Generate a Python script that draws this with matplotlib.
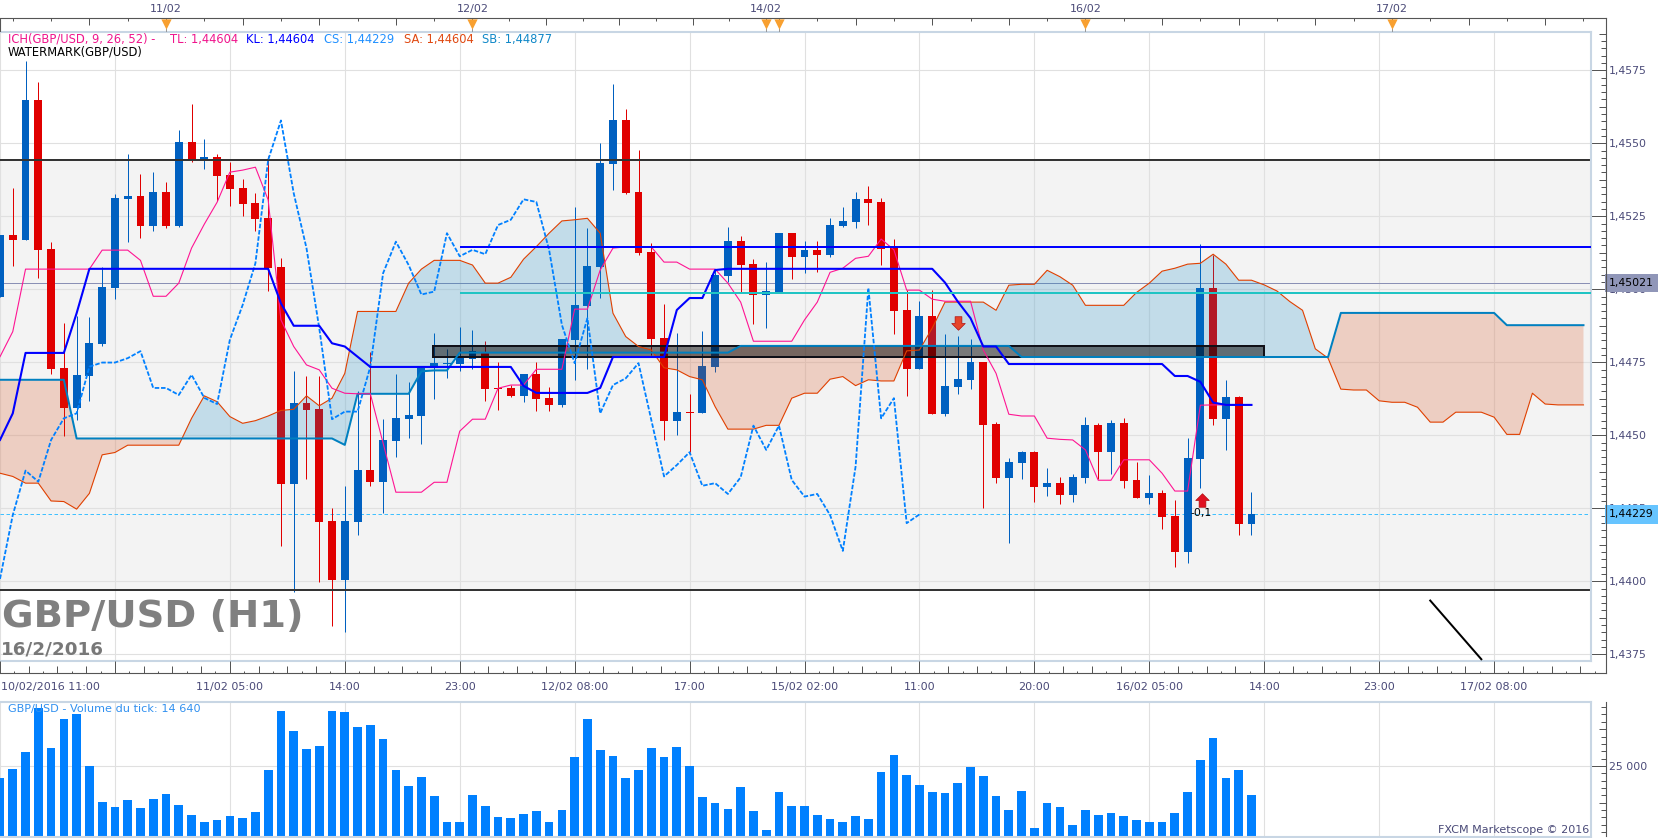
import matplotlib
matplotlib.use("Agg")
import matplotlib.pyplot as plt
import numpy as np
from matplotlib.lines import Line2D
from matplotlib.patches import Rectangle
from matplotlib.path import Path

W, H = 1663, 838
CANDLE_PX = 12.77

# --------------------------------------------
# Data
# --------------------------------------------
opens = [1.44975, 1.45186, 1.45167, 1.45649, 1.45138, 1.44731, 1.44594, 1.44703, 1.44813, 1.45005,
         1.45309, 1.45320, 1.45217, 1.45333, 1.45217, 1.45505, 1.45446, 1.45453, 1.45392, 1.45347,
         1.45296, 1.45244, 1.45077, 1.44333, 1.44611, 1.44590, 1.44207, 1.44005, 1.44203, 1.44381,
         1.44340, 1.44481, 1.44556, 1.44566, 1.44730, 1.44744, 1.44744, 1.44761, 1.44781, 1.44662,
         1.44662, 1.44635, 1.44710, 1.44628, 1.44604, 1.44827, 1.44943, 1.45077, 1.45429, 1.45580,
         1.45333, 1.45128, 1.44833, 1.44549, 1.44580, 1.44577, 1.44734, 1.45046, 1.45166, 1.45087,
         1.44981, 1.44991, 1.45193, 1.45111, 1.45135, 1.45118, 1.45217, 1.45231, 1.45309, 1.45299,
         1.45142, 1.44929, 1.44727, 1.44909, 1.44573, 1.44666, 1.44690, 1.44751, 1.44539, 1.44354,
         1.44405, 1.44443, 1.44323, 1.44337, 1.44296, 1.44354, 1.44535, 1.44443, 1.44542, 1.44347,
         1.44285, 1.44303, 1.44224, 1.44101, 1.44419, 1.45005, 1.44556, 1.44631, 1.44196]
highs = [1.45186, 1.45348, 1.45782, 1.45710, 1.45162, 1.44885, 1.44907, 1.44905, 1.45077, 1.45327,
         1.45464, 1.45395, 1.45402, 1.45368, 1.45546, 1.45635, 1.45515, 1.45464, 1.45436, 1.45378,
         1.45330, 1.45457, 1.45107, 1.44720, 1.44703, 1.44703, 1.44251, 1.44327, 1.44650, 1.44785,
         1.44555, 1.44710, 1.44683, 1.44735, 1.44851, 1.44796, 1.44871, 1.44861, 1.44823, 1.44750,
         1.44672, 1.44710, 1.44750, 1.44667, 1.44830, 1.45282, 1.45210, 1.45501, 1.45703, 1.45618,
         1.45477, 1.45159, 1.44950, 1.44851, 1.44642, 1.44857, 1.45066, 1.45214, 1.45183, 1.45104,
         1.45094, 1.45193, 1.45193, 1.45166, 1.45166, 1.45244, 1.45282, 1.45333, 1.45354, 1.45313,
         1.45172, 1.44998, 1.44960, 1.44998, 1.44847, 1.44840, 1.44830, 1.44751, 1.44546, 1.44422,
         1.44446, 1.44446, 1.44388, 1.44357, 1.44368, 1.44563, 1.44542, 1.44553, 1.44559, 1.44409,
         1.44364, 1.44313, 1.44279, 1.44491, 1.45155, 1.45118, 1.44690, 1.44635, 1.44306]
lows = [1.44975, 1.45080, 1.45167, 1.45040, 1.44711, 1.44498, 1.44553, 1.44618, 1.44804, 1.44967,
        1.45162, 1.45176, 1.45200, 1.45210, 1.45214, 1.45436, 1.45412, 1.45303, 1.45285, 1.45251,
        1.45200, 1.44994, 1.44121, 1.43964, 1.44350, 1.43998, 1.43847, 1.43827, 1.44159, 1.44327,
        1.44234, 1.44427, 1.44491, 1.44470, 1.44624, 1.44696, 1.44720, 1.44727, 1.44618, 1.44587,
        1.44631, 1.44614, 1.44583, 1.44582, 1.44597, 1.44690, 1.44727, 1.44970, 1.45340, 1.45327,
        1.45118, 1.44775, 1.44484, 1.44501, 1.44442, 1.44577, 1.44717, 1.45025, 1.44991, 1.44881,
        1.44868, 1.44986, 1.45035, 1.45056, 1.45059, 1.45111, 1.45214, 1.45210, 1.45220, 1.45083,
        1.44847, 1.44635, 1.44727, 1.44573, 1.44566, 1.44642, 1.44659, 1.44251, 1.44337, 1.44131,
        1.44350, 1.44272, 1.44292, 1.44265, 1.44272, 1.44337, 1.44350, 1.44368, 1.44320, 1.44285,
        1.44265, 1.44179, 1.44049, 1.44063, 1.44320, 1.44535, 1.44448, 1.44159, 1.44159]
closes = [1.45186, 1.45167, 1.45649, 1.45136, 1.44728, 1.44594, 1.44707, 1.44816, 1.45008, 1.45313,
          1.45320, 1.45217, 1.45333, 1.45217, 1.45505, 1.45443, 1.45453, 1.45388, 1.45344, 1.45292,
          1.45241, 1.45073, 1.44333, 1.44611, 1.44587, 1.44203, 1.44005, 1.44207, 1.44381, 1.44340,
          1.44484, 1.44559, 1.44570, 1.44731, 1.44747, 1.44748, 1.44767, 1.44788, 1.44659, 1.44659,
          1.44635, 1.44710, 1.44624, 1.44604, 1.44830, 1.44946, 1.45080, 1.45433, 1.45580, 1.45329,
          1.45125, 1.44830, 1.44549, 1.44580, 1.44577, 1.44738, 1.45049, 1.45166, 1.45083, 1.44981,
          1.44994, 1.45193, 1.45111, 1.45135, 1.45118, 1.45220, 1.45234, 1.45309, 1.45296, 1.45138,
          1.44926, 1.44727, 1.44909, 1.44573, 1.44669, 1.44693, 1.44751, 1.44535, 1.44354, 1.44409,
          1.44443, 1.44323, 1.44337, 1.44296, 1.44357, 1.44535, 1.44443, 1.44542, 1.44344, 1.44285,
          1.44303, 1.44220, 1.44101, 1.44422, 1.45005, 1.44556, 1.44631, 1.44196, 1.44229]

tenkan = [1.44769, 1.44855, 1.45069, 1.45069, 1.45069, 1.45069, 1.45069, 1.45069, 1.45134, 1.45134,
          1.45134, 1.45099, 1.44976, 1.44976, 1.45021, 1.45141, 1.45223, 1.45298, 1.45401, 1.45408,
          1.45418, 1.45306, 1.44895, 1.44804, 1.44741, 1.44724, 1.44661, 1.44644, 1.44642, 1.44642,
          1.44473, 1.44305, 1.44305, 1.44305, 1.44339, 1.44339, 1.44514, 1.44555, 1.44555, 1.44661,
          1.44672, 1.44672, 1.44726, 1.44726, 1.44726, 1.44932, 1.44932, 1.45066, 1.45141, 1.45145,
          1.45145, 1.45145, 1.45093, 1.45093, 1.45069, 1.45069, 1.45069, 1.45021, 1.44956, 1.44822,
          1.44822, 1.44822, 1.44822, 1.44895, 1.44956, 1.45058, 1.45072, 1.45106, 1.45113, 1.45172,
          1.45135, 1.44997, 1.44997, 1.44966, 1.44959, 1.44959, 1.44959, 1.44792, 1.44712, 1.44572,
          1.44566, 1.44566, 1.44490, 1.44486, 1.44484, 1.44450, 1.44346, 1.44346, 1.44416, 1.44416,
          1.44416, 1.44370, 1.44309, 1.44309, 1.44603, 1.44604, 1.44604, 1.44604, 1.44604]
kijun = [1.44484, 1.44575, 1.44782, 1.44782, 1.44782, 1.44782, 1.44918, 1.45070, 1.45070, 1.45070,
         1.45070, 1.45070, 1.45070, 1.45070, 1.45070, 1.45070, 1.45070, 1.45070, 1.45070, 1.45070,
         1.45070, 1.45070, 1.44952, 1.44875, 1.44875, 1.44875, 1.44815, 1.44804, 1.44769, 1.44734,
         1.44734, 1.44734, 1.44734, 1.44734, 1.44734, 1.44734, 1.44734, 1.44734, 1.44734, 1.44734,
         1.44734, 1.44669, 1.44645, 1.44645, 1.44645, 1.44645, 1.44645, 1.44662, 1.44768, 1.44768,
         1.44768, 1.44768, 1.44768, 1.44929, 1.44970, 1.44970, 1.45066, 1.45070, 1.45070, 1.45070,
         1.45070, 1.45070, 1.45070, 1.45070, 1.45070, 1.45070, 1.45070, 1.45070, 1.45070, 1.45070,
         1.45070, 1.45070, 1.45070, 1.45070, 1.45023, 1.44958, 1.44901, 1.44804, 1.44804, 1.44744,
         1.44744, 1.44744, 1.44744, 1.44744, 1.44744, 1.44744, 1.44744, 1.44744, 1.44744, 1.44744,
         1.44744, 1.44744, 1.44703, 1.44703, 1.44683, 1.44612, 1.44604, 1.44604, 1.44604]
chikou = [1.44008, 1.44227, 1.44379, 1.44341, 1.44484, 1.44558, 1.44575, 1.44735, 1.44749, 1.44749,
          1.44764, 1.44788, 1.44662, 1.44662, 1.44638, 1.44707, 1.44628, 1.44607, 1.44827, 1.44946,
          1.45089, 1.45443, 1.45578, 1.45329, 1.45141, 1.44867, 1.44555, 1.44581, 1.44581, 1.44735,
          1.45055, 1.45163, 1.45083, 1.44982, 1.44992, 1.45192, 1.45113, 1.45135, 1.45120, 1.45220,
          1.45238, 1.45308, 1.45299, 1.45135, 1.44878, 1.44747, 1.44901, 1.44575, 1.44672, 1.44695,
          1.44747, 1.44553, 1.44359, 1.44398, 1.44442, 1.44327, 1.44336, 1.44299, 1.44356, 1.44533,
          1.44450, 1.44533, 1.44347, 1.44290, 1.44299, 1.44227, 1.44104, 1.44393, 1.45004, 1.44558,
          1.44627, 1.44199, 1.44229]
senkou_a = [1.44370, 1.44359, 1.44336, 1.44336, 1.44275, 1.44273, 1.44247, 1.44301, 1.44433, 1.44441,
            1.44466, 1.44466, 1.44466, 1.44466, 1.44466, 1.44558, 1.44635, 1.44615, 1.44564, 1.44541,
            1.44550, 1.44566, 1.44585, 1.44589, 1.44635, 1.44601, 1.44627, 1.44712, 1.44924, 1.44924,
            1.44924, 1.44924, 1.45021, 1.45069, 1.45099, 1.45099, 1.45099, 1.45083, 1.45021, 1.45021,
            1.45041, 1.45103, 1.45146, 1.45192, 1.45234, 1.45238, 1.45243, 1.45192, 1.44918, 1.44838,
            1.44804, 1.44792, 1.44731, 1.44724, 1.44701, 1.44690, 1.44598, 1.44521, 1.44521, 1.44521,
            1.44534, 1.44534, 1.44627, 1.44644, 1.44644, 1.44692, 1.44701, 1.44670, 1.44690, 1.44686,
            1.44686, 1.44789, 1.44792, 1.44867, 1.44956, 1.44956, 1.44956, 1.44956, 1.44928, 1.45014,
            1.45017, 1.45017, 1.45065, 1.45043, 1.45014, 1.44945, 1.44945, 1.44945, 1.44945, 1.44989,
            1.45021, 1.45062, 1.45072, 1.45086, 1.45089, 1.45120, 1.45086, 1.45031, 1.45031, 1.45015,
            1.44994, 1.44958, 1.44928, 1.44796, 1.44764, 1.44658, 1.44655, 1.44655, 1.44618, 1.44613,
            1.44613, 1.44596, 1.44545, 1.44545, 1.44579, 1.44579, 1.44579, 1.44562, 1.44503, 1.44503,
            1.44644, 1.44607, 1.44604, 1.44604, 1.44604]
senkou_b = [1.44690, 1.44690, 1.44690, 1.44690, 1.44690, 1.44690, 1.44489, 1.44489, 1.44489, 1.44489,
            1.44489, 1.44489, 1.44489, 1.44489, 1.44489, 1.44489, 1.44489, 1.44489, 1.44489, 1.44489,
            1.44489, 1.44489, 1.44489, 1.44489, 1.44489, 1.44489, 1.44489, 1.44467, 1.44642, 1.44642,
            1.44642, 1.44642, 1.44642, 1.44719, 1.44722, 1.44722, 1.44783, 1.44783, 1.44783, 1.44783,
            1.44783, 1.44783, 1.44783, 1.44783, 1.44783, 1.44783, 1.44783, 1.44783, 1.44783, 1.44783,
            1.44783, 1.44783, 1.44783, 1.44783, 1.44783, 1.44783, 1.44783, 1.44783, 1.44806, 1.44806,
            1.44806, 1.44806, 1.44806, 1.44806, 1.44806, 1.44806, 1.44806, 1.44806, 1.44806, 1.44806,
            1.44806, 1.44806, 1.44806, 1.44806, 1.44806, 1.44806, 1.44806, 1.44806, 1.44806, 1.44806,
            1.44768, 1.44768, 1.44768, 1.44768, 1.44768, 1.44768, 1.44768, 1.44768, 1.44768, 1.44768,
            1.44768, 1.44768, 1.44768, 1.44768, 1.44768, 1.44768, 1.44768, 1.44768, 1.44768, 1.44768,
            1.44768, 1.44768, 1.44768, 1.44768, 1.44768, 1.44919, 1.44919, 1.44919, 1.44919, 1.44919,
            1.44919, 1.44919, 1.44919, 1.44919, 1.44919, 1.44919, 1.44919, 1.44919, 1.44877, 1.44877,
            1.44877, 1.44877, 1.44877, 1.44877, 1.44877]

volumes = [20660, 23830, 29810, 45300, 31220, 41430, 43190, 24880, 12210, 10450, 12910, 10090, 13260,
           15020, 11150, 7630, 5160, 5870, 7280, 6570, 8690, 23470, 44250, 37210, 30870, 31930, 44250,
           43900, 38620, 39320, 34390, 23470, 17840, 21010, 14320, 5160, 5160, 14670, 10800, 6930, 6570,
           7980, 9040, 5160, 9390, 28050, 41430, 30520, 28400, 20660, 23470, 31220, 28050, 31570, 24880,
           13970, 11850, 9740, 17490, 9040, 2350, 15730, 10800, 10800, 7630, 6220, 5160, 7280, 6220,
           22770, 28760, 21710, 18190, 15730, 15380, 18900, 24530, 21360, 14320, 9390, 16080, 3050,
           11850, 10450, 4110, 9390, 7630, 8330, 7280, 5870, 5160, 5160, 8330, 15730, 27000, 34740,
           20660, 23470, 14640]

price_ticks = [1.4375, 1.4400, 1.4425, 1.4450, 1.4475, 1.4500, 1.4525, 1.4550, 1.4575]
price_labels = ["1,4375", "1,4400", "1,4425", "1,4450", "1,4475", "1,4500", "1,4525", "1,4550", "1,4575"]
time_idx = [18, 27, 36, 45, 54, 63, 72, 81, 90, 99, 108, 117]
time_labels = ["11/02 05:00", "14:00", "23:00", "12/02 08:00", "17:00", "15/02 02:00", "11:00", "20:00",
               "16/02 05:00", "14:00", "23:00", "17/02 08:00"]
day_idx = [13, 37, 60, 85, 109]
day_labels = ["11/02", "12/02", "14/02", "16/02", "17/02"]
event_idx = [13, 37, 60, 61, 85, 109]
# the weekend squeezes the date scale between 12/02 and 14/02
date_long = [7, 13, 19, 25, 31, 37, 42.75, 48.5, 54.25, 60, 67, 73, 79, 85, 91, 97, 103, 109, 115, 121]
date_short = [1, 4, 10, 16, 22, 28, 34, 39.875, 45.625, 51.375, 57.125, 61, 64, 70, 76, 82, 88, 94, 100, 106,
              112, 118, 124]

band_high, band_low = 1.45443, 1.43971
last_price, bid_line = 1.44229, 1.45021
kl_level, cyan_level = 1.45145, 1.44988
box_low, box_high = 1.44768, 1.44807
trend_x, trend_y = [112, 116], [1.43934, 1.43733]

PLOT_R = 1590.5
AXIS_R = 1605.5
TXT = "#4a4a78"
TICK = "#555555"
GRID = "#e0e0e0"
FRAME = "#c8d6e4"
FS = 8.0


def px_axes(fig, x0, y0, x1, y1):
    return fig.add_axes([x0 / W, 1 - y1 / H, (x1 - x0) / W, (y1 - y0) / H])


def px_vline(fig, x, y0, y1, color=TICK):
    fig.add_artist(Line2D([x / W, x / W], [1 - y0 / H, 1 - y1 / H], color=color, lw=0.8,
                          transform=fig.transFigure))


def scale_ticks(axis, values, length_px):
    # these hang off the outer scale line, not off the panel
    x1 = AXIS_R / PLOT_R
    x0 = (AXIS_R - length_px) / PLOT_R
    axis.hlines(values, x0, x1, transform=axis.get_yaxis_transform(), color=TICK, lw=0.72, clip_on=False)


def arrow_marker(direction):
    pts = np.array([(-0.5, 1), (0.5, 1), (0.5, 0), (1, 0), (0, -1), (-1, 0), (-0.5, 0), (-0.5, 1)], dtype=float)
    return Path(pts * [1, direction], closed=True)


def style_panel(axis):
    for name in ["top", "bottom", "right"]:
        axis.spines[name].set_color(FRAME)
        axis.spines[name].set_linewidth(1.5)
    axis.spines["left"].set_visible(False)
    axis.set_xticks(np.arange(0, 125, 9))
    axis.tick_params(axis="x", length=0, labelbottom=False)
    axis.yaxis.tick_right()
    axis.tick_params(axis="y", which="major", length=10.8, width=0.72, color=TICK, pad=2.5)
    axis.grid(True, which="major", color=GRID, lw=0.8)


plt.rcParams["font.family"] = ["DejaVu Sans"]
fig = plt.figure(figsize=(W / 100, H / 100), dpi=100, facecolor="white")

# --------------------------------------------
# Price panel
# --------------------------------------------
ax = px_axes(fig, 0, 32, PLOT_R, 660.7)
ax.set_xlim(0, PLOT_R / CANDLE_PX)
ax.set_ylim(1.43728, 1.45881)
ax.set_axisbelow(True)
ax.set_facecolor("white")
ax.set_yticks(price_ticks)
ax.set_yticklabels(price_labels, fontsize=7.8, color=TXT)
style_panel(ax)

level_steps = np.arange(1.43775, 1.4588, 0.00025)
scale_ticks(ax, [v for v in level_steps if abs(v * 800 - round(v * 800)) < 1e-6], 7)
scale_ticks(ax, [v for v in level_steps if abs(v * 800 - round(v * 800)) > 1e-6
                 and abs(v * 400 - round(v * 400)) > 1e-6], 4.3)

ax.axhspan(band_low, band_high, color="#f3f3f3", lw=0, zorder=0.1)
ax.axhline(band_high, color="#333333", lw=1.44, zorder=2.2)
ax.axhline(band_low, color="#333333", lw=1.44, zorder=2.2)
ax.axhline(bid_line, color="#8a90b5", lw=0.72, zorder=1)
ax.axhline(last_price, color="#40c0ff", lw=0.72, ls=(0, (3.5, 2.5)), zorder=1)

idx = np.arange(len(opens))
o, h, l, c = map(np.array, (opens, highs, lows, closes))
col = np.where(c >= o, "#0060c0", "#e00000")
ax.vlines(idx, l, h, colors=col, lw=0.72, zorder=2)
ax.bar(idx, np.abs(c - o), bottom=np.minimum(o, c), width=0.62, color=col, lw=0, zorder=2.1)

# cloud goes over the candles, that is why the red bodies turn dark in it
sa = np.array(senkou_a)
sb = np.array(senkou_b)
xc = np.arange(len(sa))
ax.fill_between(xc, sa, sb, where=sa >= sb, interpolate=True, color="#0082c3", alpha=0.2, lw=0, zorder=2.5)
ax.fill_between(xc, sa, sb, where=sa <= sb, interpolate=True, color="#d73c00", alpha=0.2, lw=0, zorder=2.5)

ax.add_patch(Rectangle((33.9, box_low), 99 - 33.9, box_high - box_low, facecolor=(0, 0, 0, 0.5),
                       edgecolor="#101018", lw=1.44, zorder=2.6))

ax.plot(xc, sa, color="#e04000", lw=0.8, zorder=3)
ax.plot(xc, sb, color="#0080c0", lw=1.44, zorder=3.1)
ax.plot(np.arange(len(tenkan)), tenkan, color="#ff1493", lw=0.8, zorder=3.2)
ax.plot(np.arange(len(chikou)), chikou, color="#0080ff", lw=1.3, ls=(0, (2.5, 1)), zorder=3.3)
ax.plot(np.arange(len(kijun)), kijun, color="#0000ff", lw=1.5, zorder=3.4)
ax.hlines(kl_level, 36, PLOT_R / CANDLE_PX, color="#0000ff", lw=1.44, zorder=3.4)
ax.hlines(cyan_level, 36, PLOT_R / CANDLE_PX, color="#20c4c4", lw=1.44, zorder=3.4)
ax.plot(trend_x, trend_y, color="black", lw=1.44, zorder=3.5)

ax.scatter([75], [1.44883], marker=arrow_marker(1), s=95, color="#e6452a", edgecolor="#b01010", lw=0.5, zorder=4)
ax.scatter([94.1], [1.44279], marker=arrow_marker(-1), s=95, color="#e01020", edgecolor="#b01010", lw=0.5, zorder=4)
ax.text(94.05, 1.44234, "-0,1", fontsize=7.8, color="black", ha="center", va="center", zorder=4)

legend_bits = [(8, "ICH(GBP/USD, 9, 26, 52) -", "#f0148c"), (170, "TL: 1,44604", "#f0148c"),
               (246.5, "KL: 1,44604", "#0000ff"), (323.5, "CS: 1,44229", "#2090ff"),
               (403.5, "SA: 1,44604", "#e04810"), (482, "SB: 1,44877", "#1088c8")]
for x, s, color in legend_bits:
    fig.text(x / W, 1 - 39 / H, s, color=color, fontsize=8.3, ha="left", va="center", zorder=10)
fig.text(8 / W, 1 - 52 / H, "WATERMARK(GBP/USD)", color="black", fontsize=8.3, ha="left", va="center", zorder=10)

fig.text(1.5 / W, 1 - 617 / H, "GBP/USD (H1)", weight="bold", fontsize=27.7,
         color="#808080", ha="left", va="center", zorder=10)
fig.text(1 / W, 1 - 649 / H, "16/2/2016", weight="bold", fontsize=13.2,
         color="#787878", ha="left", va="center", zorder=10)

# value flags on the price scale
yaxis_tf = ax.get_yaxis_transform()
ax.text(1.0115, bid_line, "1,45021", transform=yaxis_tf, fontsize=7.8, color="black", va="center", ha="left",
        clip_on=False, zorder=20, bbox=dict(boxstyle="square,pad=0.38", fc="#9096b8", ec="none"))
ax.text(1.0115, last_price, "1,44229", transform=yaxis_tf, fontsize=7.8, color="black", va="center", ha="left",
        clip_on=False, zorder=20, bbox=dict(boxstyle="square,pad=0.38", fc="#66c4ff", ec="none"))

# --------------------------------------------
# Date strip on top
# --------------------------------------------
ax_top = px_axes(fig, 0, 18.5, AXIS_R, 32)
ax_top.set_xlim(0, AXIS_R / CANDLE_PX)
ax_top.set_ylim(0, 1)
ax_top.axis("off")
ax_top.plot([0, AXIS_R / CANDLE_PX], [1, 1], color=TICK, lw=0.8, clip_on=False)
ax_top.vlines(0, 0, 1, color=TICK, lw=0.8)
ax_top.vlines(date_long, 0.55, 1, color=TICK, lw=0.72)
ax_top.vlines(date_short, 0.78, 1, color=TICK, lw=0.72)
ax_top.vlines(event_idx, 0, 0.3, color="#999999", lw=0.72)
ax_top.scatter(event_idx, [0.62] * len(event_idx), marker="v", s=55, color="#f8a030", lw=0, zorder=3)
for i, s in zip(day_idx, day_labels):
    ax_top.text(i, 1.7, s, fontsize=FS, color=TXT, ha="center", va="center", clip_on=False)

# --------------------------------------------
# Time strip under the price panel
# --------------------------------------------
ax_bot = px_axes(fig, 0, 660.7, AXIS_R, 673.3)
ax_bot.set_xlim(0, AXIS_R / CANDLE_PX)
ax_bot.set_ylim(0, 1)
ax_bot.axis("off")
ax_bot.plot([0, AXIS_R / CANDLE_PX], [0, 0], color=TICK, lw=0.8, clip_on=False)
ax_bot.vlines(np.arange(0, 125, 9), 0, 1, color=TICK, lw=0.72)
ax_bot.vlines(np.arange(2.25, 125, 2.25), 0, 0.55, color=TICK, lw=0.72)
ax_bot.vlines(np.arange(1.125, 125, 2.25), 0, 0.22, color=TICK, lw=0.72)
ax_bot.text(1 / CANDLE_PX, -1.1, "10/02/2016 11:00", fontsize=FS, color=TXT, ha="left", va="center", clip_on=False)
for i, s in zip(time_idx, time_labels):
    ax_bot.text(i, -1.1, s, fontsize=FS, color=TXT, ha="center", va="center", clip_on=False)

# --------------------------------------------
# Volume panel
# --------------------------------------------
ax_vol = px_axes(fig, 0, 702, PLOT_R, 837)
ax_vol.set_xlim(0, PLOT_R / CANDLE_PX)
ax_vol.set_ylim(0, 47500)
ax_vol.set_axisbelow(True)
ax_vol.set_yticks([25000])
ax_vol.set_yticklabels(["25 000"], fontsize=7.8, color=TXT)
style_panel(ax_vol)
scale_ticks(ax_vol, [12050, 37950], 7)
scale_ticks(ax_vol, [1690, 4280, 6870, 9460, 14640, 17230, 19820, 22410, 27590, 30180, 32770, 35360, 40540,
                     43130, 45720], 4.3)
ax_vol.bar(np.arange(len(volumes)), volumes, width=0.68, color="#0080ff", lw=0, zorder=2)
ax_vol.text(8 / PLOT_R, 0.945, "GBP/USD - Volume du tick: 14 640", transform=ax_vol.transAxes, fontsize=8.1,
            color="#3090f0", ha="left", va="center", zorder=5)
ax_vol.text(0.9995, 0.05, "FXCM Marketscope © 2016", transform=ax_vol.transAxes, fontsize=FS, color=TXT,
            ha="right", va="center", zorder=5)

px_vline(fig, AXIS_R, 18.5, 673.3)
px_vline(fig, AXIS_R, 702, 836)

fig.savefig("out.png", dpi=100)
